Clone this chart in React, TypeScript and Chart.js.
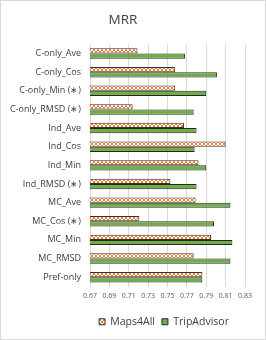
import React, { useEffect, useRef } from "react";
import { Chart, registerables } from "chart.js";

Chart.register(...registerables);

const categories = [
  "C-only_Ave",
  "C-only_Cos",
  "C-only_Min (∗)",
  "C-only_RMSD (∗)",
  "Ind_Ave",
  "Ind_Cos",
  "Ind_Min",
  "Ind_RMSD (∗)",
  "MC_Ave",
  "MC_Cos (∗)",
  "MC_Min",
  "MC_RMSD",
  "Pref-only",
];
const maps4All = [0.719, 0.758, 0.758, 0.714, 0.767, 0.81, 0.782, 0.753, 0.779, 0.721, 0.795, 0.777, 0.786];
const tripAdvisor = [0.768, 0.801, 0.79, 0.777, 0.78, 0.778, 0.79, 0.78, 0.815, 0.798, 0.817, 0.815, 0.786];
const xTicks = [0.67, 0.69, 0.71, 0.73, 0.75, 0.77, 0.79, 0.81, 0.83];

function makePattern(ctx: CanvasRenderingContext2D): CanvasPattern | string {
  const c = document.createElement("canvas");
  c.width = 4;
  c.height = 4;
  const p = c.getContext("2d");
  if (!p) return "#ED7D31";
  p.fillStyle = "#ffffff";
  p.fillRect(0, 0, 4, 4);
  p.fillStyle = "#ED7D31";
  p.fillRect(0, 0, 2, 2);
  p.fillRect(2, 2, 2, 2);
  return ctx.createPattern(c, "repeat") || "#ED7D31";
}

const shiftLegend = {
  id: "shiftLegend",
  afterLayout(chart: any) {
    const lg = chart.legend;
    if (lg) {
      lg.left += 41;
      lg.right += 41;
      if (typeof lg.adjustHitBoxes === "function") lg.adjustHitBoxes();
    }
  },
};

export default function App() {
  const ref = useRef<HTMLCanvasElement>(null);
  useEffect(() => {
    const canvas = ref.current;
    if (!canvas) return;
    const ctx = canvas.getContext("2d")!;
    const pattern = makePattern(ctx);
    const font = "'Open Sans', 'Noto Sans', sans-serif";
    const chart = new Chart(canvas, {
      type: "bar",
      data: {
        labels: categories,
        datasets: [
          {
            label: "Maps4All",
            data: maps4All,
            backgroundColor: pattern as any,
            borderColor: "#333333",
            borderWidth: 1,
            categoryPercentage: 0.56,
            barPercentage: 1,
          },
          {
            label: "TripAdvisor",
            data: tripAdvisor,
            backgroundColor: "#70AD47",
            borderColor: "#262626",
            borderWidth: 1,
            categoryPercentage: 0.56,
            barPercentage: 1,
          },
        ],
      },
      plugins: [shiftLegend],
      options: {
        indexAxis: "y",
        animation: false,
        responsive: false,
        maintainAspectRatio: false,
        layout: { padding: { left: 0, right: 20, top: 0, bottom: 2 } },
        plugins: {
          title: {
            display: true,
            text: "MRR",
            color: "#404040",
            font: { family: font, size: 13.5, weight: "normal" },
            padding: { top: 11, bottom: 16 },
          },
          legend: {
            position: "bottom",
            labels: {
              boxWidth: 6,
              boxHeight: 6,
              color: "#404040",
              font: { family: font, size: 10.5 },
              padding: 7,
            },
          },
          tooltip: { enabled: false },
        },
        scales: {
          x: {
            min: 0.67,
            max: 0.83,
            afterBuildTicks: (axis: any) => {
              axis.ticks = xTicks.map((v) => ({ value: v }));
            },
            afterFit: (axis: any) => {
              axis.height = 23;
            },
            ticks: {
              color: "#595959",
              font: { family: font, size: 7 },
              padding: 5,
              maxRotation: 0,
              callback: (v: any) => Number(v).toFixed(2),
            },
            grid: { color: "#d9d9d9", drawTicks: false },
            border: { display: false },
          },
          y: {
            afterFit: (axis: any) => {
              axis.width = 89;
            },
            ticks: {
              color: "#404040",
              font: { family: font, size: 9 },
              padding: 9,
            },
            grid: { display: false, drawTicks: false },
            border: { display: true, color: "#d9d9d9" },
          },
        },
      },
    });
    return () => chart.destroy();
  }, []);
  return (
    <div
      style={{
        position: "absolute",
        left: 0,
        top: 0,
        width: 266,
        height: 340,
        border: "1px solid #d9d9d9",
        boxSizing: "border-box",
        background: "#fff",
      }}
    >
      <canvas ref={ref} width={264} height={338} style={{ display: "block", width: 264, height: 338 }} />
    </div>
  );
}
